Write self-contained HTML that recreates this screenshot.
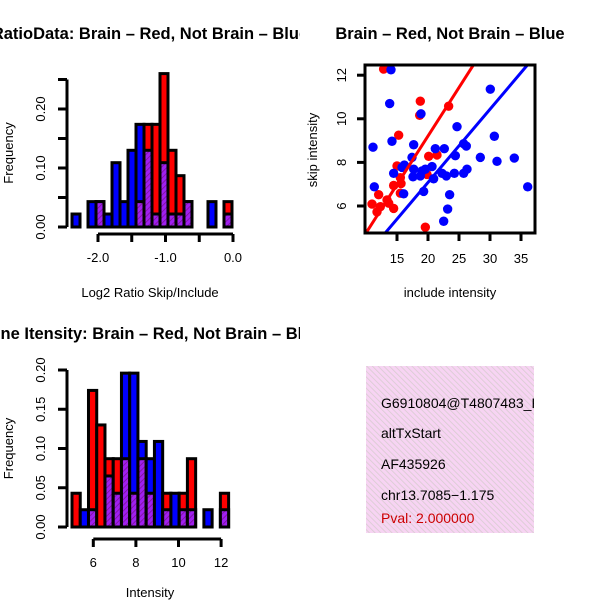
<!DOCTYPE html>
<html><head><meta charset="utf-8"><style>
body{margin:0;background:#fff}
svg text{font-family:"Liberation Sans",sans-serif}
</style></head><body>
<svg id="s" width="600" height="600" xmlns="http://www.w3.org/2000/svg">
<defs>
<pattern id="hatch" width="4" height="4" patternUnits="userSpaceOnUse" patternTransform="rotate(45)">
<rect width="4" height="4" fill="#a020f0"/><line x1="0" y1="0" x2="0" y2="4" stroke="#7a1090" stroke-width="1.5"/>
</pattern>
<pattern id="pinkhatch" width="4" height="4" patternUnits="userSpaceOnUse" patternTransform="rotate(-45)">
<rect width="4" height="4" fill="#f7d4f3"/><line x1="0" y1="0" x2="0" y2="4" stroke="#d8ccd0" stroke-width="1.6"/>
</pattern>
<clipPath id="c1"><rect x="0" y="0" width="300" height="300"/></clipPath>
<clipPath id="c3"><rect x="0" y="300" width="300" height="300"/></clipPath>
<clipPath id="c2"><rect x="365" y="65" width="170" height="168"/></clipPath>
<clipPath id="c4"><rect x="366" y="366" width="168" height="167"/></clipPath>
</defs>
<g id="g1"></g><g id="g2"></g><g id="g3"></g><g id="g4"></g>
</svg>
<script>
// ---- top-left histogram (ratio) ----
const ratioBinStart = -2.385, ratioBinWidth = 0.1185;
const ratioBlue = [0.022,0,0.043,0.043,0.022,0.109,0.043,0.13,0.174,0.13,0.022,0.109,0.022,0.022,0.043,0,0,0.043,0,0.022];
const ratioRed  = [0,0,0,0.043,0,0,0,0,0.043,0.174,0.174,0.26,0.13,0.087,0.043,0,0,0,0,0.043];
const ratioXTicks = [-2.0,-1.5,-1.0,-0.5,0.0];
const ratioXLabels = ["-2.0","","-1.0","","0.0"];
const ratioYTicks = [0,0.05,0.10,0.15,0.20,0.25];
const ratioYLabels = ["0.00","","0.10","","0.20",""];
// ---- bottom-left histogram (intensity) ----
const intBinStart = 5.0, intBinWidth = 0.387;
const intBlue = [0,0.022,0.022,0,0.065,0.043,0.196,0.196,0.109,0.087,0.109,0.022,0.043,0.022,0.022,0,0.022,0,0.022];
const intRed  = [0.043,0,0.174,0.13,0.087,0.087,0.087,0.043,0.087,0.043,0,0.043,0,0.043,0.087,0,0,0,0.043];
const intXTicks = [6,8,10,12];
const intYTicks = [0,0.05,0.10,0.15,0.20];
const intYLabels = ["0.00","0.05","0.10","0.15","0.20"];
// ---- scatter ----
const blueX = [14.03,13.82,11.13,14.19,17.69,18.87,24.68,30.05,30.70,25.75,26.18,21.18,22.63,17.42,16.18,15.81,14.46,17.58,17.69,19.03,19.57,20.65,20.91,22.26,22.96,24.25,24.41,25.75,26.29,28.44,31.13,33.92,36.08,11.34,16.08,19.30,23.49,23.17,22.53,18.76];
const blueY = [12.25,10.70,8.70,8.97,8.81,10.23,9.64,11.36,9.20,8.86,8.75,8.63,8.63,8.23,7.88,7.77,7.50,7.34,7.69,7.61,7.69,7.81,7.25,7.50,7.38,7.50,8.31,7.50,7.69,8.23,8.05,8.20,6.88,6.88,6.56,6.67,6.52,5.86,5.30,7.38];
const redX = [12.85,18.76,18.66,23.33,15.27,20.11,21.45,15.0,15.54,15.65,14.46,15.54,12.04,10.97,12.31,13.39,11.77,14.46,19.57,13.66,19.84];
const redY = [12.28,10.81,10.16,10.58,9.25,8.28,8.34,7.84,7.30,7.03,6.94,6.59,6.52,6.09,5.97,6.28,5.73,5.89,5.03,6.13,7.45];
const redLine = [0.445, 0.31];   // slope, intercept
const blueLine = [0.336, 0.36];
const scXTicks = [15,20,25,30,35];
const scYTicks = [6,8,10,12];

const NS="http://www.w3.org/2000/svg";
function mk(parent,tag,attrs,text){const e=document.createElementNS(NS,tag);for(const k in attrs)e.setAttribute(k,attrs[k]);if(text!==undefined)e.textContent=text;parent.appendChild(e);return e;}

function hist(g,binStart,binW,blue,red,xs,ys,xTicks,xLabels,yTicks,yLabels,clipId,title,xlab,yAxisTop,titleY,xlabY,xAxisY,yLabX){
  const x=v=>xs[0]+(v-xs[1])*xs[2];
  const y=v=>ys[0]-v*ys[1];
  const t=mk(g,'text',{x:150,y:titleY,'text-anchor':'middle','font-size':16.5,'font-weight':'bold','clip-path':'url(#'+clipId+')'},title);
  
  
  for(let i=0;i<blue.length;i++){
    const b=blue[i],r=red[i];if(b===0&&r===0)continue;
    const x0=x(binStart+i*binW),w=binW*xs[2];
    const hi=Math.max(b,r),lo=Math.min(b,r);
    const big=mk(g,'rect',{x:x0,y:y(hi),width:w,height:y(0)-y(hi),fill:b>=r?'#0000ff':'#ff0000',stroke:'#000','stroke-width':3});
    
    
    if(lo>0){const o=mk(g,'rect',{x:x0,y:y(lo),width:w,height:y(0)-y(lo),fill:'url(#hatch)',stroke:'#000','stroke-width':3});
      
      }
  }
  const ya=mk(g,'line',{x1:67,x2:67,y1:y(0),y2:y(yTicks[yTicks.length-1]),stroke:'#000','stroke-width':3});
  
  
  yTicks.forEach((v,i)=>{mk(g,'line',{x1:58,x2:67,y1:y(v),y2:y(v),stroke:'#000','stroke-width':3});
    if(yLabels[i]){const l=mk(g,'text',{x:0,y:0,'text-anchor':'middle','font-size':13,transform:`translate(${yLabX},${y(v)}) rotate(-90)`},yLabels[i]);
      
      }});
  const xa=mk(g,'line',{x1:x(xTicks[0]),x2:x(xTicks[xTicks.length-1]),y1:xAxisY,y2:xAxisY,stroke:'#000','stroke-width':3});
  
  
  xTicks.forEach((v,i)=>{mk(g,'line',{x1:x(v),x2:x(v),y1:xAxisY,y2:xAxisY+8,stroke:'#000','stroke-width':3});
    if(xLabels[i]){const l=mk(g,'text',{x:x(v),y:xAxisY+28,'text-anchor':'middle','font-size':13},xLabels[i]);
      
      }});
  const xl=mk(g,'text',{x:150,y:xlabY,'text-anchor':'middle','font-size':13},xlab);
  
  
  const yl=mk(g,'text',{x:0,y:0,'text-anchor':'middle','font-size':13,transform:`translate(13,${(y(0)+yAxisTop)/2}) rotate(-90)`},'Frequency');
  
  
}
hist(document.getElementById('g1'),ratioBinStart,ratioBinWidth,ratioBlue,ratioRed,[233,0,67.5],[227,590],ratioXTicks,ratioXLabels,ratioYTicks,ratioYLabels,'c1','RatioData: Brain \u2013 Red, Not Brain \u2013 Blue','Log2 Ratio Skip/Include',79,39,297,234,45);
hist(document.getElementById('g3'),intBinStart,intBinWidth,intBlue,intRed,[93.3,6,21.3],[527,785],intXTicks,intXTicks.map(String),intYTicks,intYLabels,'c3','Gene Itensity: Brain \u2013 Red, Not Brain \u2013 Blue','Intensity',370,339,597,539,45);

// scatter
(function(){
  const g=document.getElementById('g2');
  const x=v=>397+(v-15)*6.2, y=v=>206-(v-6)*21.8;
  const t=mk(g,'text',{x:450,y:39,'text-anchor':'middle','font-size':16.5,'font-weight':'bold'},'Brain \u2013 Red, Not Brain \u2013 Blue');
  
  
  const cg=mk(g,'g',{'clip-path':'url(#c2)'});
  redX.forEach((v,i)=>{const c=mk(cg,'circle',{cx:x(v),cy:y(redY[i]),r:4.7,fill:'#ff0000'});
    
    });
  blueX.forEach((v,i)=>{const c=mk(cg,'circle',{cx:x(v),cy:y(blueY[i]),r:4.7,fill:'#0000ff'});
    
    });
  [[redLine,'#ff0000','brain-fit-line'],[blueLine,'#0000ff','not-brain-fit-line']].forEach(([p,col,n])=>{
    const l=mk(cg,'line',{x1:x(5),y1:y(p[0]*5+p[1]),x2:x(40),y2:y(p[0]*40+p[1]),stroke:col,'stroke-width':3});
    
    });
  const b=mk(g,'rect',{x:365,y:65,width:170,height:168,fill:'none',stroke:'#000','stroke-width':3});
  
  
  scXTicks.forEach(v=>{mk(g,'line',{x1:x(v),x2:x(v),y1:233,y2:241,stroke:'#000','stroke-width':3});
    const l=mk(g,'text',{x:x(v),y:263,'text-anchor':'middle','font-size':13},String(v));
    
    });
  scYTicks.forEach(v=>{mk(g,'line',{x1:357,x2:365,y1:y(v),y2:y(v),stroke:'#000','stroke-width':3});
    const l=mk(g,'text',{x:0,y:0,'text-anchor':'middle','font-size':13,transform:`translate(346,${y(v)}) rotate(-90)`},String(v));
    
    });
  const xl=mk(g,'text',{x:450,y:297,'text-anchor':'middle','font-size':13},'include intensity');
  
  
  const yl=mk(g,'text',{x:0,y:0,'text-anchor':'middle','font-size':13,transform:'translate(317,150) rotate(-90)'},'skip intensity');
  
  
})();

// info box
(function(){
  const g=document.getElementById('g4');
  const r=mk(g,'rect',{x:366,y:366,width:168,height:167,fill:'url(#pinkhatch)'});
  
  
  const cg=mk(g,'g',{'clip-path':'url(#c4)'});
  const lines=[['G6910804@T4807483_R',408,'#000','event-id'],['altTxStart',438,'#000','event-type'],['AF435926',469,'#000','accession'],['chr13.7085\u22121.175',500,'#000','location'],['Pval: 2.000000',523,'#cc0000','p-value']];
  lines.forEach(([s,yy,c,n])=>{const t=mk(cg,'text',{x:381,y:yy,'font-size':14,fill:c},s);
    
    });
})();
</script>
</body></html>
